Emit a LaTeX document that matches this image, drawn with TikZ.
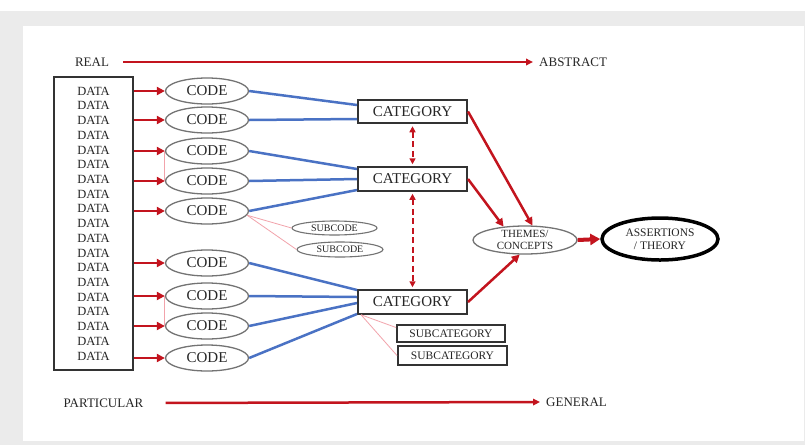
\documentclass[tikz,border=0pt]{standalone}
\usepackage{fontspec}
\setmainfont{Liberation Serif}
\usetikzlibrary{arrows.meta,shapes.geometric,calc}
\definecolor{myred}{HTML}{C3141E}
\definecolor{myblue}{HTML}{4A72C4}
\definecolor{mypink}{HTML}{F2A3AB}
\definecolor{txt}{HTML}{262626}
\definecolor{framegray}{HTML}{EBEBEB}
\begin{document}
\begin{tikzpicture}[x=1pt,y=-1pt,
  every node/.style={text=txt},
  codeell/.style={ellipse,draw=black!55,line width=1.3pt,minimum width=83pt,minimum height=26pt,inner sep=0pt,font=\fontsize{15}{15}\selectfont},
  subell/.style={ellipse,draw=black!55,line width=1.1pt,inner sep=0pt,font=\fontsize{10}{10}\selectfont},
  catbox/.style={draw=black!80,line width=2pt,minimum width=109pt,minimum height=23.5pt,inner sep=0pt,font=\fontsize{15}{15}\selectfont},
  subcat/.style={draw=black!80,line width=2pt,inner sep=0pt,font=\fontsize{11.5}{11.5}\selectfont},
  redarrow/.style={draw=myred,line width=2.5pt,-{Triangle[length=8pt,width=8pt]}},
  dasharrow/.style={draw=myred,line width=2pt,dash pattern=on 6pt off 3.5pt,{Triangle[length=6pt,width=6pt]}-{Triangle[length=6pt,width=6pt]},shorten <=2pt,shorten >=2pt},
  blueline/.style={draw=myblue,line width=2.5pt},
  pinkline/.style={draw=mypink,line width=0.8pt},
  axislabel/.style={font=\fontsize{13}{13}\selectfont,inner sep=0pt},
  axisarrow/.style={draw=myred,line width=2.5pt,-{Triangle[length=7pt,width=6.5pt]}},
  ]
% background frame
\fill[framegray] (0,0) rectangle (805,445);
\fill[white] (0,0) rectangle (805,11);
\fill[white] (23,26) rectangle (804,441);
\useasboundingbox (0,0) rectangle (805,445);

% data box
\node[draw=black!80,line width=1.5pt,minimum width=79pt,minimum height=293pt,inner sep=0pt,align=center,font=\fontsize{12.5}{14.72}\selectfont] (data) at (93.5,223.5)
 {DATA\\DATA\\DATA\\DATA\\DATA\\DATA\\DATA\\DATA\\DATA\\DATA\\DATA\\DATA\\DATA\\DATA\\DATA\\DATA\\DATA\\DATA\\DATA};

% codes
\foreach \i/\y in {1/91,2/120,3/151,4/181,5/211,6/263,7/296,8/326,9/358}
  \node[codeell] (c\i) at (207,\y) {CODE};
\foreach \i in {1,...,9}
  \draw[redarrow] (data.east |- c\i) -- (c\i.west);

% categories
\node[catbox] (cat1) at (412.5,111.5) {CATEGORY};
\node[catbox] (cat2) at (412.5,179) {CATEGORY};
\node[catbox] (cat3) at (412.5,302) {CATEGORY};

% blue connectors
\draw[blueline] (c1.east) -- ($(cat1.west)+(0,-6.5)$);
\draw[blueline] (c2.east) -- ($(cat1.west)+(0,7.5)$);
\draw[blueline] (c3.east) -- ($(cat2.west)+(0,-10)$);
\draw[blueline] (c4.east) -- (cat2.west);
\draw[blueline] (c5.east) -- ($(cat2.west)+(0,11)$);
\draw[blueline] (c6.east) -- ($(cat3.west)+(0,-12)$);
\draw[blueline] (c7.east) -- ($(cat3.west)+(0,-5)$);
\draw[blueline] (c8.east) -- ($(cat3.west)+(0,1)$);
\draw[blueline] (c9.east) -- ($(cat3.west)+(0,12)$);

% pink links between codes
\draw[pinkline] (c3.west) -- (c4.west);
\draw[pinkline] (c7.west) -- (c8.west);

% subcodes
\node[subell,minimum width=85pt,minimum height=14pt] (sc1) at (334.5,228) {SUBCODE};
\node[subell,minimum width=86pt,minimum height=15pt] (sc2) at (340,249.5) {SUBCODE};
\draw[pinkline] (c5.-6) -- (sc1.west);
\draw[pinkline] (c5.-6) -- (sc2.west);

% subcategories
\node[subcat,minimum width=108pt,minimum height=17pt] (sca1) at (451,333.5) {SUBCATEGORY};
\node[subcat,minimum width=109pt,minimum height=19pt] (sca2) at (452.5,355.5) {SUBCATEGORY};
\draw[pinkline] ($(cat3.south west)+(4,0)$) -- ($(sca1.west)+(0,-6)$);
\draw[pinkline] ($(cat3.south west)+(4,0)$) -- (sca2.west);

% dashed links between categories
\draw[dasharrow] (cat1.south) -- (cat2.north);
\draw[dasharrow] (cat2.south) -- (cat3.north);

% themes and assertions
\node[ellipse,draw=black!55,line width=1.3pt,minimum width=104pt,minimum height=28pt,inner sep=0pt,align=center,font=\fontsize{11}{12}\selectfont] (themes) at (525,240) {THEMES/\\CONCEPTS};
\node[ellipse,draw=black,line width=3.5pt,minimum width=116pt,minimum height=42pt,inner sep=0pt,align=center,font=\fontsize{11.5}{13.5}\selectfont] (assert) at (660,239) {ASSERTIONS\\/ THEORY};

\draw[redarrow] (cat1.east) -- (themes.63);
\draw[redarrow] (cat2.east) -- (themes.148);
\draw[redarrow] (cat3.east) -- (themes.-110);
\draw[draw=myred,line width=4pt,-{Triangle[length=10pt,width=11pt]}] (themes.east) -- (assert.west);

% axis labels
\node[axislabel] (real) at (92,62) {REAL};
\node[axislabel,anchor=west] (abstract) at (539,62) {ABSTRACT};
\draw[axisarrow,shorten <=14pt,shorten >=6pt] (real.east) -- (abstract.west);
\node[axislabel] (part) at (103.5,403) {PARTICULAR};
\node[axislabel,anchor=west] (general) at (546,402) {GENERAL};
\draw[axisarrow,shorten <=22pt,shorten >=6pt] (part.east) -- (general.west);
\end{tikzpicture}
\end{document}
